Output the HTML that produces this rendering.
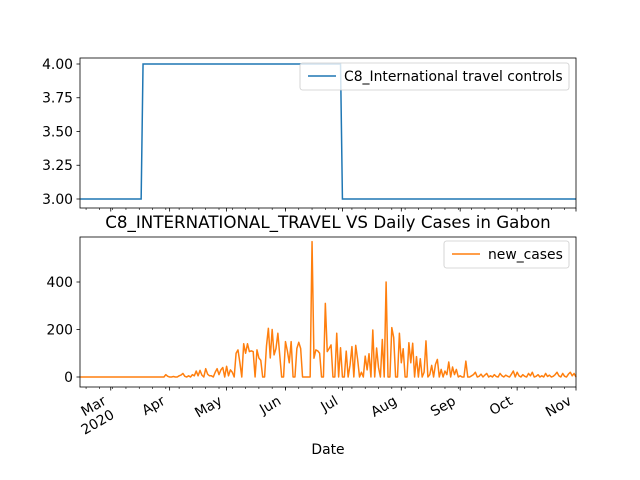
<!DOCTYPE html>
<html><head><meta charset="utf-8"><style>
html,body{margin:0;padding:0;background:#fff}
svg{display:block;font-family:"DejaVu Sans","Liberation Sans",sans-serif}
</style></head><body>
<svg id="chart" width="640" height="480" viewBox="0 0 640 480" xmlns="http://www.w3.org/2000/svg">
<rect width="640" height="480" fill="#fff"/>
<g id="top"></g>
<g id="bot"></g>
<text x="328" y="228" text-anchor="middle" font-size="16.7" fill="#000">C8_INTERNATIONAL_TRAVEL VS Daily Cases in Gabon</text>
<text x="328" y="454" text-anchor="middle" font-size="13.9" fill="#000">Date</text>
</svg>
<script>
// day index 0 = 2020-02-14
const policyDays = [0, 32, 33, 137, 138, 261];
const policyValues = [3, 3, 4, 4, 3, 3];
const topTicks = [3.00, 3.25, 3.50, 3.75, 4.00];
const topTickLabels = ["3.00", "3.25", "3.50", "3.75", "4.00"];
const caseTicks = [0, 200, 400];
const caseTickLabels = ["0", "200", "400"];
const monthDays = [16, 47, 77, 108, 138, 169, 200, 230, 261];
const monthLabels = ["Mar|2020", "Apr", "May", "Jun", "Jul", "Aug", "Sep", "Oct", "Nov"];
const newCases = [
0,0,0,0,0,0,0,0,0,0,0,0,0,0,0,0,0,0,0,0,0,0,0,0,0,0,0,0,0,0,0,0,0,0,0,0,0,0,0,0,0,0,0,0,0,
10,3,0,0,2,0,0,5,8,15,3,0,5,0,10,5,25,5,28,8,0,35,12,5,5,0,
20,35,10,30,40,0,45,5,30,20,0,
100,114,60,0,140,100,140,107,110,107,0,114,80,70,0,0,130,205,80,200,93,120,184,90,0,0,
149,110,60,149,0,0,120,146,120,0,0,0,0,0,570,79,114,110,100,0,0,310,107,120,135,0,0,184,0,
123,0,0,109,0,50,128,0,133,74,0,20,0,88,30,98,0,198,0,122,40,0,158,0,400,0,0,208,166,0,0,184,60,119,0,0,
144,60,142,0,86,0,77,0,20,152,0,10,49,0,53,74,0,32,0,25,10,63,0,42,10,32,0,5,0,0,67,0,
0,5,10,20,0,3,12,0,8,15,0,5,0,10,2,0,15,5,0,8,3,0,12,25,0,20,5,0,10,3,0,15,5,20,0,3,10,0,5,0,15,2,8,0,3,10,20,5,0,15,3,0,12,20,5,15,0];

const NS = "http://www.w3.org/2000/svg";
const X0 = 80, X1 = 576, D0 = -0.2, D1 = 261;
function xs(d){ return X0 + (d - D0) / (D1 - D0) * (X1 - X0); }
function yTop(v){ return 199 - (v - 3) * 135; }
function yBot(v){ return 377 - v * 0.2375; }
function mk(parent, tag, attrs){
  const e = document.createElementNS(NS, tag);
  for (const k in attrs) e.setAttribute(k, attrs[k]);
  parent.appendChild(e); return e;
}
function axes(g, top, bottom, ticks, labels, yf, withLabels, nm){
  ticks.forEach((t, i) => {
    const y = yf(t);
    const tk = mk(g, "line", {x1: X0 - 3.5, x2: X0, y1: y, y2: y, stroke: "#000", "stroke-width": 0.8});
    
    
    const tx = mk(g, "text", {x: X0 - 7, y: y + 4.8, "text-anchor": "end", "font-size": 13.9, fill: "#000"});
    tx.textContent = labels[i];
    
    
  });
  for (let d = 3; d <= 261; d += 7) {
    const x = xs(d);
    const m = mk(g, "line", {x1: x, x2: x, y1: bottom, y2: bottom + 2, stroke: "#000", "stroke-width": 0.6});
    
    
  }
  monthDays.forEach((d, i) => {
    const x = xs(d);
    const t = mk(g, "line", {x1: x, x2: x, y1: bottom, y2: bottom + 3.5, stroke: "#000", "stroke-width": 0.8});
    
    
    if (withLabels) {
      const tx = mk(g, "text", {"text-anchor": "end", "font-size": 13.9, fill: "#000",
        transform: "translate(" + (x - 9) + "," + (bottom + 7) + ") rotate(-30)"});
      const parts = monthLabels[i].split("|");
      parts.forEach((p, j) => {
        const ts = mk(tx, "tspan", {x: 0, y: 11 + j * 16});
        ts.textContent = p;
      });
      
      
    }
  });
}
const gt = document.getElementById("top"), gb = document.getElementById("bot");
axes(gt, 58, 208, topTicks, topTickLabels, yTop, false, "top");
let p = policyDays.map((d, i) => (i ? "L" : "M") + xs(d).toFixed(2) + "," + yTop(policyValues[i]).toFixed(2)).join(" ");
const tl = mk(gt, "path", {d: p, fill: "none", stroke: "#1f77b4", "stroke-width": 1.5});


const tf = mk(gt, "rect", {x: X0, y: 58, width: X1 - X0, height: 150, fill: "none", stroke: "#000", "stroke-width": 0.8});


axes(gb, 237, 387, caseTicks, caseTickLabels, yBot, true, "bottom");
p = newCases.map((v, i) => (i ? "L" : "M") + xs(i).toFixed(2) + "," + yBot(v).toFixed(2)).join(" ");
const cl = mk(gb, "path", {d: p, fill: "none", stroke: "#ff7f0e", "stroke-width": 1.5, "stroke-linejoin": "round"});


const bf = mk(gb, "rect", {x: X0, y: 237, width: X1 - X0, height: 150, fill: "none", stroke: "#000", "stroke-width": 0.8});


function legend(g, x, y, w, color, label, nm){
  const lg = mk(g, "g", {});
  
  
  mk(lg, "rect", {x: x, y: y, width: w, height: 27, rx: 2.5, fill: "#fff", "fill-opacity": 0.8, stroke: "#ccc", "stroke-width": 0.8});
  mk(lg, "line", {x1: x + 8, x2: x + 36, y1: y + 13, y2: y + 13, stroke: color, "stroke-width": 1.5});
  const t = mk(lg, "text", {x: x + 44, y: y + 18, "font-size": 13.9, fill: "#000"});
  t.textContent = label;
}
legend(gt, 300, 63, 269, "#1f77b4", "C8_International travel controls", "top-legend");
legend(gb, 444, 241, 125, "#ff7f0e", "new_cases", "bottom-legend");
</script>
</body></html>
